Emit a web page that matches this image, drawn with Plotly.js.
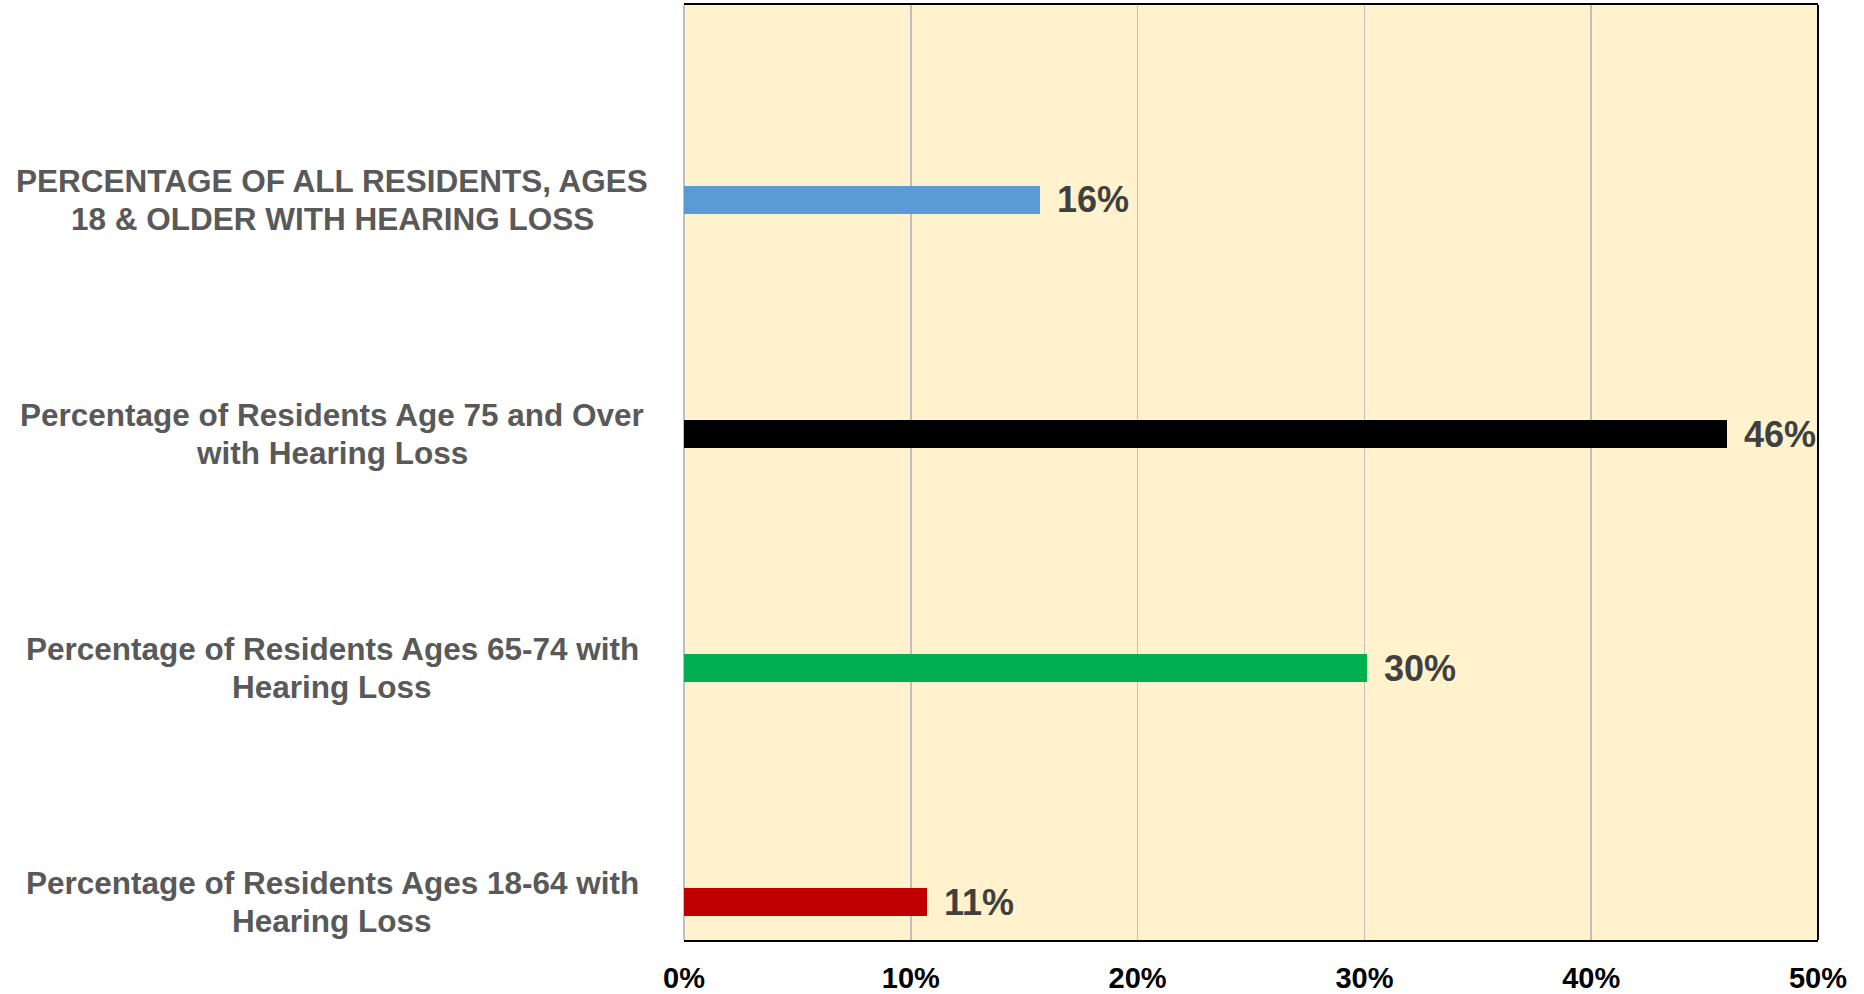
<!DOCTYPE html>
<html>
<head>
<meta charset="utf-8">
<script src="https://cdn.plot.ly/plotly-3.0.1.min.js"></script>
<style>html,body{margin:0;padding:0;background:#fff;}#chart{width:1864px;height:994px;}</style>
</head>
<body>
<div id="chart"></div>
<script>
// Categories listed bottom to top
const categories = [
  "Percentage of Residents Ages 18-64 with|Hearing Loss",
  "Percentage of Residents Ages 65-74 with|Hearing Loss",
  "Percentage of Residents Age 75 and Over|with Hearing Loss",
  "PERCENTAGE OF ALL RESIDENTS, AGES|18 & OLDER WITH HEARING LOSS"
];
const values = [10.7, 30.1, 46.0, 15.7];
const valueLabels = ["11%", "30%", "46%", "16%"];
const barColors = ["#C00000", "#00B050", "#000000", "#5B9BD5"];
const xTickVals = [0, 10, 20, 30, 40, 50];
const xTickText = ["0%", "10%", "20%", "30%", "40%", "50%"];

const FONT = '"Liberation Sans", Arial, sans-serif';
const yIdx = categories.map((c, i) => i);

const trace = {
  type: "bar",
  orientation: "h",
  x: values,
  y: yIdx,
  width: 0.1175,
  marker: { color: barColors },
  hoverinfo: "skip"
};

const annotations = [];
// value labels
values.forEach((v, i) => {
  annotations.push({
    x: v, y: i, xref: "x", yref: "y",
    text: "<b>" + valueLabels[i] + "</b>", showarrow: false,
    xanchor: "left", yanchor: "middle", xshift: 15,
    font: { family: FONT, size: 36, color: "#404040" }
  });
});
// category labels (centered multi-line, placed left of plot)
categories.forEach((c, i) => {
  const lines = c.split("|");
  const n = lines.length;
  const lh = 38;
  lines.forEach((ln, j) => {
    annotations.push({
      x: 0, y: i, xref: "paper", yref: "y",
      text: "<b>" + ln + "</b>", showarrow: false,
      xanchor: "center", yanchor: "middle",
      xshift: -352,
      yshift: ((n - 1) / 2 - j) * lh,
      font: { family: FONT, size: 31.5, color: "#595959" }
    });
  });
});

const layout = {
  width: 1864, height: 994,
  margin: { l: 684, r: 46, t: 5, b: 54 },
  paper_bgcolor: "#ffffff",
  plot_bgcolor: "#FFF2CC",
  showlegend: false,
  bargap: 0,
  xaxis: {
    range: [0, 50],
    tickvals: xTickVals, ticktext: xTickText,
    showgrid: true, gridcolor: "#BFBFBF", gridwidth: 1.5,
    zeroline: true, zerolinecolor: "#BFBFBF", zerolinewidth: 2,
    showline: true, linecolor: "#000000", linewidth: 2, mirror: true,
    ticks: "", ticklabelstandoff: 11,
    tickfont: { family: FONT, size: 29, color: "#000000", weight: "bold" },
    fixedrange: true
  },
  yaxis: {
    range: [-0.162, 3.833],
    showticklabels: false, showgrid: false, zeroline: false, showline: false,
    fixedrange: true
  },
  shapes: [
    { type: "line", xref: "paper", yref: "paper", x0: 1, x1: 1, y0: 0, y1: 1,
      line: { color: "#000000", width: 2 } }
  ],
  annotations: annotations
};

Plotly.newPlot("chart", [trace], layout, { displayModeBar: false, staticPlot: true });
</script>
</body>
</html>
